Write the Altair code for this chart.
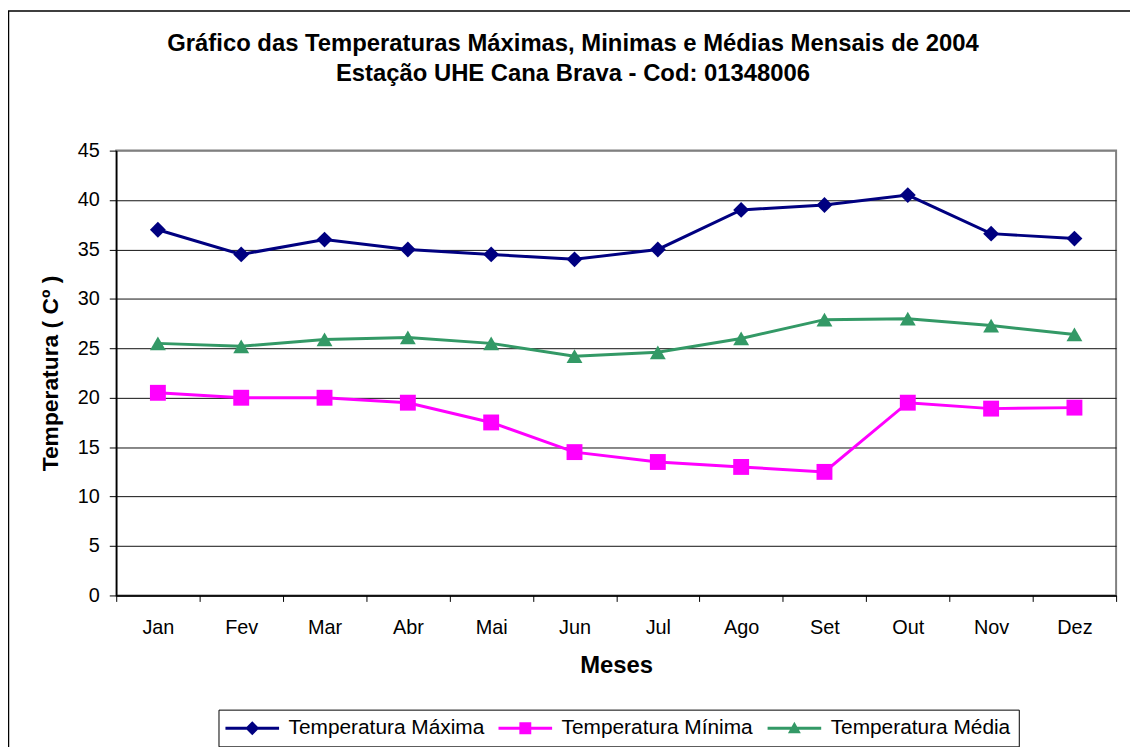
import altair as alt
import pandas as pd

months = ["Jan", "Fev", "Mar", "Abr", "Mai", "Jun", "Jul", "Ago", "Set", "Out", "Nov", "Dez"]
t_max = [37.0, 34.5, 36.0, 35.0, 34.5, 34.0, 35.0, 39.0, 39.5, 40.5, 36.6, 36.1]
t_min = [20.5, 20.0, 20.0, 19.5, 17.5, 14.5, 13.5, 13.0, 12.5, 19.5, 18.9, 19.0]
t_med = [25.5, 25.2, 25.9, 26.1, 25.5, 24.2, 24.6, 26.0, 27.9, 28.0, 27.3, 26.4]

series = ["Temperatura Máxima", "Temperatura Mínima", "Temperatura Média"]
colors = ["#000080", "#FF00FF", "#339966"]
shapes = ["diamond", "square", "triangle-up"]
legend_paths = [
    "M-2.7,-0.15 H-0.55 L0,-0.7 L0.55,-0.15 H2.7 V0.15 H0.55 L0,0.7 L-0.55,0.15 H-2.7 Z",
    "M-2.7,-0.15 H-0.6 V-0.6 H0.6 V-0.15 H2.7 V0.15 H0.6 V0.6 H-0.6 V0.15 H-2.7 Z",
    "M-2.7,-0.15 H-0.283 L0,-0.65 L0.283,-0.15 H2.7 V0.15 H0.452 L0.65,0.5 H-0.65 L-0.452,0.15 H-2.7 Z",
]

title_lines = [
    "Gráfico das Temperaturas Máximas, Minimas e Médias Mensais de 2004",
    "Estação UHE Cana Brava - Cod: 01348006",
]

rows = []
for name, vals in zip(series, [t_max, t_min, t_med]):
    for m, v in zip(months, vals):
        rows.append({"Mes": m, "Temperatura": v, "Serie": name})
df = pd.DataFrame(rows)

FONT = "Liberation Sans"

x_enc = alt.X(
    "Mes:O",
    sort=months,
    bandPosition=0.5,
    scale=alt.Scale(type="band", paddingInner=0, paddingOuter=0),
    axis=alt.Axis(
        title="Meses", labelAngle=0, tickBand="extent", tickSize=6, tickColor="black",
        labelPadding=16, labelFontSize=20, labelFont=FONT, labelColor="black",
        titleFont=FONT, titleFontSize=24, titleFontWeight="bold", titleColor="black",
        titleY=71, titleBaseline="middle", domainColor="black", domainWidth=1.5, grid=False,
    ),
)
y_enc = alt.Y(
    "Temperatura:Q",
    scale=alt.Scale(domain=[0, 45], nice=False),
    axis=alt.Axis(
        title="Temperatura  ( Cº )", values=list(range(0, 46, 5)), tickSize=7, tickColor="black",
        labelPadding=10, labelFontSize=20, labelFont=FONT, labelColor="black",
        titleFont=FONT, titleFontSize=23, titleFontWeight="bold", titleColor="black",
        titleX=-66.5, titleY=224, titleBaseline="middle", titleAngle=270,
        domainColor="black", domainWidth=1.5, grid=True,
        gridColor={"condition": {"test": "datum.value == 45", "value": "#808080"}, "value": "#111111"},
        gridWidth=1,
    ),
)

color_plain = alt.Color("Serie:N", scale=alt.Scale(domain=series, range=colors), legend=None)

border = alt.Chart(pd.DataFrame({"k": [0]})).mark_rect(
    fillOpacity=0, stroke="black", strokeWidth=1.5
).encode(
    x=alt.value(-108.5), x2=alt.value(1040), y=alt.value(-140.5), y2=alt.value(650)
)

title1 = alt.Chart(pd.DataFrame({"t": [title_lines[0]]})).mark_text(
    font=FONT, fontSize=24, fontWeight="bold", color="black", align="center", baseline="middle"
).encode(text="t:N", x=alt.value(460), y=alt.value(-107))

title2 = alt.Chart(pd.DataFrame({"t": [title_lines[1]]})).mark_text(
    font=FONT, fontSize=24, fontWeight="bold", color="black", align="center", baseline="middle"
).encode(text="t:N", x=alt.value(460), y=alt.value(-77))

lines = alt.Chart(df).mark_line(strokeWidth=3).encode(
    x=x_enc, y=y_enc, color=color_plain, detail="Serie:N"
)

points = alt.Chart(df).mark_point(filled=True, opacity=1, size=256).encode(
    x=x_enc, y=y_enc, color=color_plain,
    shape=alt.Shape("Serie:N", scale=alt.Scale(domain=series, range=shapes), legend=None),
)

leg = alt.Legend(
    orient="none", legendX=103, legendY=563, direction="horizontal", columns=3, title=None,
    labelFont=FONT, labelFontSize=21, labelColor="black", labelLimit=0, symbolSize=400,
    symbolStrokeWidth=0, symbolOpacity=1, symbolOffset=15.5, labelOffset=26, columnPadding=14,
    padding=8, strokeColor="black", fillColor="white",
)

legend_layer = alt.Chart(df).transform_filter("datum.Temperatura < -1000").mark_point(
    filled=True
).encode(
    x=x_enc, y=y_enc,
    color=alt.Color("Serie:N", scale=alt.Scale(domain=series, range=colors), legend=leg),
    shape=alt.Shape("Serie:N", scale=alt.Scale(domain=series, range=legend_paths), legend=leg),
)

chart = alt.layer(border, title1, title2, lines, points, legend_layer).resolve_scale(
    color="independent", shape="independent"
).properties(
    width=1007,
    height=448,
    autosize=alt.AutoSizeParams(type="none"),
    padding={"left": 109, "top": 141, "right": 14, "bottom": 150},
    background="white",
).configure_view(stroke="#808080", strokeWidth=2, fill="white")

chart.save("out.html", embed_options={"renderer": "svg", "actions": False})
